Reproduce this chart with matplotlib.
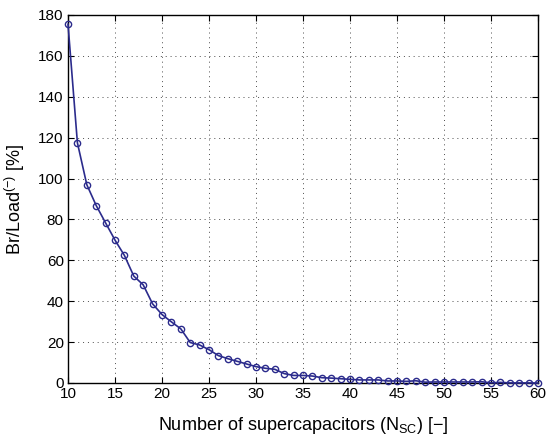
import numpy as np
import matplotlib
matplotlib.use("Agg")
import matplotlib.pyplot as plt

plt.rcParams['font.family'] = ['Liberation Sans', 'DejaVu Sans']
plt.rcParams['mathtext.fontset'] = 'custom'
plt.rcParams['mathtext.rm'] = 'Liberation Sans'
plt.rcParams['mathtext.it'] = 'Liberation Sans'

# number of supercapacitors
n_sc = list(range(10, 61))
# Br/Load(-) in percent
br_load = [175.5, 117.5, 97.0, 86.8, 78.3, 69.9, 62.4, 52.3, 48.0, 38.7,
           33.5, 29.9, 26.5, 19.8, 18.6, 16.3, 13.4, 11.9, 10.6, 9.3,
           8.0, 7.2, 6.7, 4.6, 3.7, 3.7, 3.4, 2.6, 2.4, 2.1,
           1.8, 1.5, 1.5, 1.5, 1.0, 1.0, 0.8, 1.1, 0.4, 0.5,
           0.5, 0.5, 0.5, 0.5, 0.6, 0.1, 0.3, 0.05, 0.05, 0.05,
           0.0]

xticks = list(range(10, 61, 5))
yticks = list(range(0, 181, 20))

fig = plt.figure(figsize=(5.49, 4.46), dpi=100)
ax = fig.add_axes([68/549, 1 - 383/446, 470/549, 368/446])

ax.plot(n_sc, br_load, color='#2b2b8c', lw=1.2, marker='o', ms=4.5,
        mfc='none', mec='#2b2b8c', mew=1.0, clip_on=False, zorder=3)

ax.set_xlim(10, 60)
ax.set_ylim(0, 180)
ax.set_xticks(xticks)
ax.set_yticks(yticks)
ax.grid(True, linestyle=(0, (1, 4)), color='black', lw=0.7, alpha=0.7)
ax.tick_params(direction='in', top=True, right=True, labelsize=11, length=4, pad=3)
for s in ax.spines.values():
    s.set_linewidth(1.0)

ax.set_xlabel(r'Number of supercapacitors (N$_{\mathrm{SC}}$) [$-$]', fontsize=13, labelpad=10)
ax.set_ylabel(r'Br/Load$^{(-)}$ [%]', fontsize=13, labelpad=8)

fig.savefig('out.png', dpi=100)
